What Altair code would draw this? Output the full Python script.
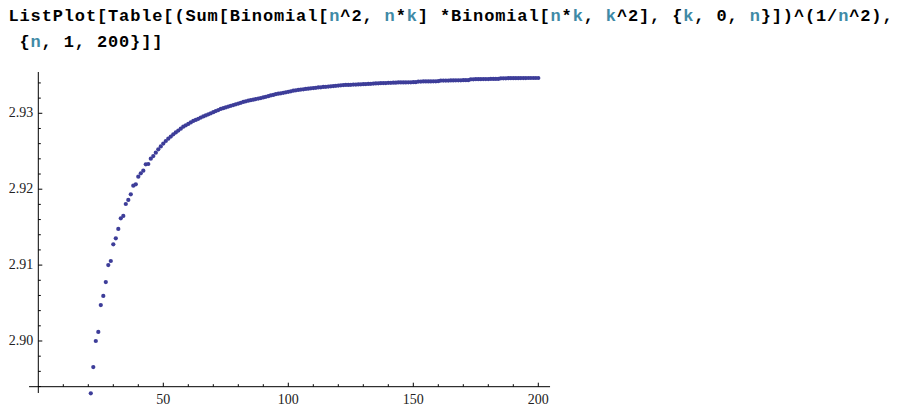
import altair as alt
import pandas as pd

# ---------------- data ----------------
N_FIRST = 21
ratio_values = [
    2.89311, 2.89657, 2.90000, 2.90119, 2.90474, 2.90593, 2.90777, 2.91001, 2.91054, 2.91274,  # 21-30
    2.91353, 2.91476, 2.91617, 2.91647, 2.91805, 2.91858, 2.91933, 2.92046, 2.92065, 2.92165,  # 31-40
    2.92209, 2.92244, 2.92328, 2.92332, 2.92402, 2.92437, 2.92481, 2.92526, 2.92564, 2.92601,  # 41-50
    2.92635, 2.92665, 2.92694, 2.92723, 2.92748, 2.92773, 2.92798, 2.92823, 2.92842, 2.92860,  # 51-60
    2.92880, 2.92899, 2.92913, 2.92928, 2.92943, 2.92958, 2.92972, 2.92987, 2.93000, 2.93014,  # 61-70
    2.93029, 2.93043, 2.93057, 2.93067, 2.93078, 2.93088, 2.93099, 2.93109, 2.93119, 2.93129,  # 71-80
    2.93138, 2.93149, 2.93158, 2.93166, 2.93173, 2.93179, 2.93187, 2.93194, 2.93200, 2.93209,  # 81-90
    2.93217, 2.93225, 2.93235, 2.93242, 2.93252, 2.93258, 2.93264, 2.93270, 2.93277, 2.93283,  # 91-100
    2.93290, 2.93298, 2.93303, 2.93307, 2.93312, 2.93316, 2.93321, 2.93325, 2.93329, 2.93333,  # 101-110
    2.93336, 2.93340, 2.93343, 2.93347, 2.93349, 2.93352, 2.93356, 2.93358, 2.93362, 2.93365,  # 111-120
    2.93369, 2.93372, 2.93373, 2.93374, 2.93375, 2.93378, 2.93379, 2.93381, 2.93382, 2.93383,  # 121-130
    2.93385, 2.93387, 2.93389, 2.93391, 2.93393, 2.93395, 2.93397, 2.93398, 2.93399, 2.93401,  # 131-140
    2.93402, 2.93403, 2.93404, 2.93406, 2.93406, 2.93407, 2.93407, 2.93408, 2.93408, 2.93410,  # 141-150
    2.93410, 2.93418, 2.93418, 2.93419, 2.93419, 2.93420, 2.93420, 2.93422, 2.93422, 2.93423,  # 151-160
    2.93431, 2.93431, 2.93432, 2.93432, 2.93433, 2.93433, 2.93435, 2.93435, 2.93435, 2.93436,  # 161-170
    2.93436, 2.93436, 2.93448, 2.93448, 2.93449, 2.93449, 2.93449, 2.93451, 2.93451, 2.93451,  # 171-180
    2.93452, 2.93452, 2.93452, 2.93452, 2.93461, 2.93461, 2.93461, 2.93462, 2.93462, 2.93463,  # 181-190
    2.93463, 2.93463, 2.93464, 2.93464, 2.93464, 2.93465, 2.93465, 2.93465, 2.93465, 2.93465,  # 191-200
]
n_values = list(range(N_FIRST, N_FIRST + len(ratio_values)))

x_major = [50, 100, 150, 200]
x_major_labels = ["50", "100", "150", "200"]
x_minor = [10, 20, 30, 40, 60, 70, 80, 90, 110, 120, 130, 140, 160, 170, 180, 190]
y_major = [2.90, 2.91, 2.92, 2.93]
y_major_labels = ["2.90", "2.91", "2.92", "2.93"]
y_minor = [2.894, 2.896, 2.898, 2.902, 2.904, 2.906, 2.908, 2.912, 2.914, 2.916,
           2.918, 2.922, 2.924, 2.926, 2.928, 2.932, 2.934]

code_line1 = "ListPlot[Table[(Sum[Binomial[n^2, n*k] *Binomial[n*k, k^2], {k, 0, n}])^(1/n^2),"
code_line2 = "{n, 1, 200}]]"

# ---------------- layout ----------------
W, H = 885, 400
PX_PER_UNIT_Y = 7590.0
X_MIN, X_MAX = -12.12, 341.88
Y_MAX = 2.943873
Y_MIN = Y_MAX - H / PX_PER_UNIT_Y
X_AXIS_Y = 2.89398
Y_AXIS_LO, Y_AXIS_HI = 2.89315, 2.93544
X_AXIS_LO, X_AXIS_HI = -3.7, 204.7

PT = "#3D3D99"
VAR = "#3F8AA6"

xs = alt.Scale(domain=[X_MIN, X_MAX], nice=False, zero=False)
ys = alt.Scale(domain=[Y_MIN, Y_MAX], nice=False, zero=False)


def px_to_x(px):
    return X_MIN + px / W * (X_MAX - X_MIN)


def py_to_y(py):
    return Y_MAX - py / H * (Y_MAX - Y_MIN)


def X(f=None, **kw):
    if f is None:
        return alt.X(scale=xs, axis=None, **kw)
    return alt.X(f, scale=xs, axis=None, **kw)


def Y(f=None, **kw):
    if f is None:
        return alt.Y(scale=ys, axis=None, **kw)
    return alt.Y(f, scale=ys, axis=None, **kw)


one = pd.DataFrame({"a": [0]})

pts = pd.DataFrame({"n": n_values, "v": ratio_values})
points = alt.Chart(pts).mark_circle(size=18, color=PT, opacity=1).encode(
    x=X("n:Q"), y=Y("v:Q")
)

x_axis = alt.Chart(one).mark_rule(color="#000", strokeWidth=1).encode(
    x=X(datum=X_AXIS_LO), x2=alt.X2(datum=X_AXIS_HI), y=Y(datum=X_AXIS_Y)
)
y_axis = alt.Chart(one).mark_rule(color="#000", strokeWidth=1).encode(
    x=X(datum=0), y=Y(datum=Y_AXIS_LO), y2=alt.Y2(datum=Y_AXIS_HI)
)

y_maj_t = alt.Chart(pd.DataFrame({"t": y_major})).mark_rule(color="#000", x2Offset=4).encode(
    x=X(datum=0), x2=alt.X2(datum=0), y=Y("t:Q")
)
y_min_t = alt.Chart(pd.DataFrame({"t": y_minor})).mark_rule(color="#000", x2Offset=2.5).encode(
    x=X(datum=0), x2=alt.X2(datum=0), y=Y("t:Q")
)
x_maj_t = alt.Chart(pd.DataFrame({"t": x_major})).mark_rule(color="#000", y2Offset=-4).encode(
    y=Y(datum=X_AXIS_Y), y2=alt.Y2(datum=X_AXIS_Y), x=X("t:Q")
)
x_min_t = alt.Chart(pd.DataFrame({"t": x_minor})).mark_rule(color="#000", y2Offset=-2.5).encode(
    y=Y(datum=X_AXIS_Y), y2=alt.Y2(datum=X_AXIS_Y), x=X("t:Q")
)

y_lab = alt.Chart(pd.DataFrame({"t": y_major, "s": y_major_labels})).mark_text(
    align="right", baseline="middle", dx=-5, font="Liberation Serif", fontSize=14, color="#222"
).encode(x=X(datum=0), y=Y("t:Q"), text="s:N")

x_lab = alt.Chart(pd.DataFrame({"t": x_major, "s": x_major_labels})).mark_text(
    align="center", baseline="middle", dy=13, font="Liberation Serif", fontSize=14, color="#222"
).encode(x=X("t:Q"), y=Y(datum=X_AXIS_Y), text="s:N")


def char_rows(line, x0, base_y, cw):
    rows = []
    for i, ch in enumerate(line):
        if ch == " ":
            continue
        prev = line[i - 1] if i > 0 else " "
        nxt = line[i + 1] if i + 1 < len(line) else " "
        is_var = ch in "nk" and not prev.isalpha() and not nxt.isalpha()
        rows.append({
            "ch": ch,
            "x": px_to_x(x0 + (i + 0.5) * cw),
            "y": py_to_y(base_y),
            "c": VAR if is_var else "#000000",
        })
    return rows


CW = 885 / len(code_line1)
code_df = pd.DataFrame(char_rows(code_line1, 0, 13, CW) + char_rows(code_line2, 11, 39, CW))
code = alt.Chart(code_df).mark_text(
    font="Liberation Mono", fontWeight="bold", fontSize=17, align="center", baseline="alphabetic"
).encode(x=X("x:Q"), y=Y("y:Q"), text="ch:N", color=alt.Color("c:N", scale=None))

chart = alt.layer(
    x_axis, y_axis, y_maj_t, y_min_t, x_maj_t, x_min_t, y_lab, x_lab, points, code
).properties(
    width=W, height=H, autosize=alt.AutoSizeParams(type="none"), padding=0, background="white"
).configure_view(stroke=None)

chart.save("out.html", embed_options={"renderer": "svg", "actions": False})
